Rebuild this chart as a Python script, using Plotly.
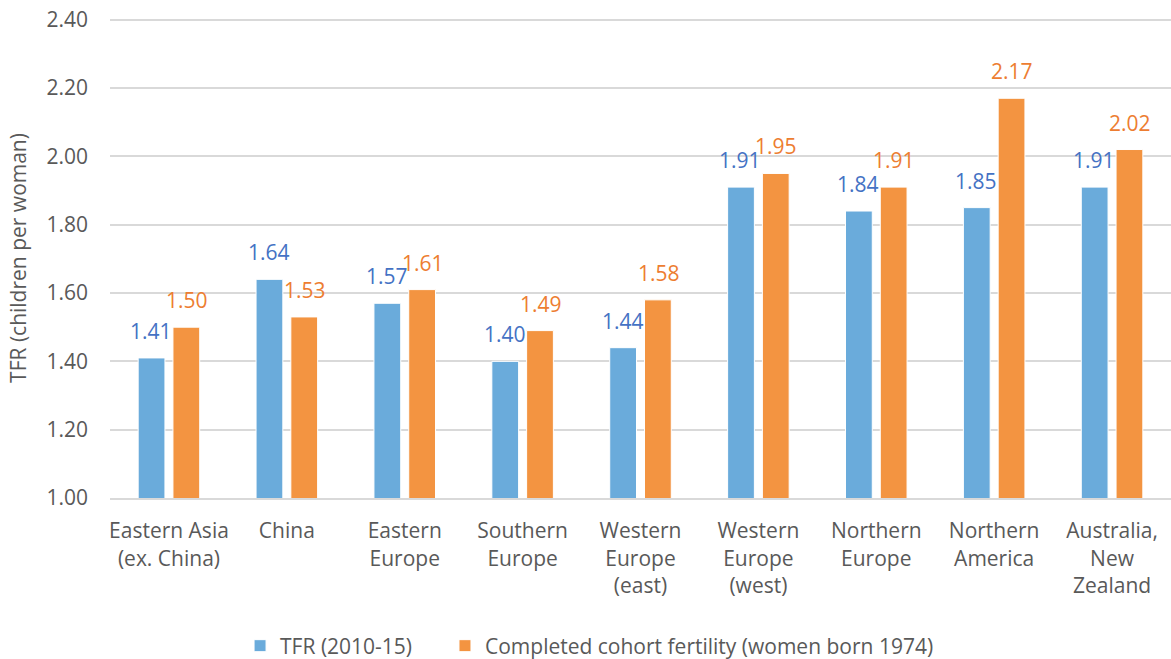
import plotly.graph_objects as go

categories = ["Eastern Asia<br>(ex. China)", "China", "Eastern<br>Europe", "Southern<br>Europe",
              "Western<br>Europe<br>(east)", "Western<br>Europe<br>(west)", "Northern<br>Europe",
              "Northern<br>America", "Australia,<br>New<br>Zealand"]
tfr = [1.41, 1.64, 1.57, 1.40, 1.44, 1.91, 1.84, 1.85, 1.91]
cohort = [1.50, 1.53, 1.61, 1.49, 1.58, 1.95, 1.91, 2.17, 2.02]
y_ticks = [1.00, 1.20, 1.40, 1.60, 1.80, 2.00, 2.20, 2.40]

FONT = "Open Sans"
FS = 21
fig = go.Figure()
fig.add_trace(go.Bar(name="TFR (2010-15)", x=categories, y=tfr, legend="legend", showlegend=True,
                     marker=dict(color="#6AABDB", line=dict(color="#FFFFFF", width=1))))
fig.add_trace(go.Bar(name="Completed cohort fertility (women born 1974)", x=categories, y=cohort,
                     legend="legend2", showlegend=True,
                     marker=dict(color="#F39441", line=dict(color="#FFFFFF", width=1))))

annotations = []
for c, v in zip(categories, tfr):
    annotations.append(dict(x=c, y=v, text=f"{v:.2f}", showarrow=False, xshift=-18, yshift=27,
                            yanchor="middle", font=dict(family=FONT, size=FS, color="#4472C4")))
for c, v in zip(categories, cohort):
    annotations.append(dict(x=c, y=v, text=f"{v:.2f}", showarrow=False, xshift=18, yshift=27,
                            yanchor="middle", font=dict(family=FONT, size=FS, color="#ED7D31")))

legend_common = dict(orientation="h", xanchor="left", xref="container",
                     y=0.0197, yanchor="middle", yref="container", visible=True,
                     font=dict(family=FONT, size=FS, color="#595959"), itemwidth=30)

fig.update_layout(
    width=1171, height=659,
    showlegend=True,
    margin=dict(l=110, r=0, t=18, b=161),
    paper_bgcolor="white", plot_bgcolor="white",
    barmode="group", bargap=0.41, bargroupgap=0.23,
    font=dict(family=FONT, size=FS, color="#595959"),
    annotations=annotations,
    legend=dict(x=0.205, **legend_common),
    legend2=dict(x=0.380, **legend_common),
    xaxis=dict(showline=True, linecolor="#D9D9D9", linewidth=2, ticks="", automargin=False,
               tickfont=dict(size=FS), ticklabelstandoff=13),
    yaxis=dict(range=[1.0, 2.405], tickvals=y_ticks, tickformat=".2f", showgrid=True,
               gridcolor="#D9D9D9", gridwidth=1.5, zeroline=False, ticks="", automargin=False,
               ticklabelstandoff=21, ticklabeloverflow="allow",
               title=dict(text="TFR (children per woman)", font=dict(size=FS), standoff=14),
               tickfont=dict(size=FS)),
)
fig.write_html("out.html", config={"displayModeBar": False},
               post_script="document.body.style.margin='0';")
